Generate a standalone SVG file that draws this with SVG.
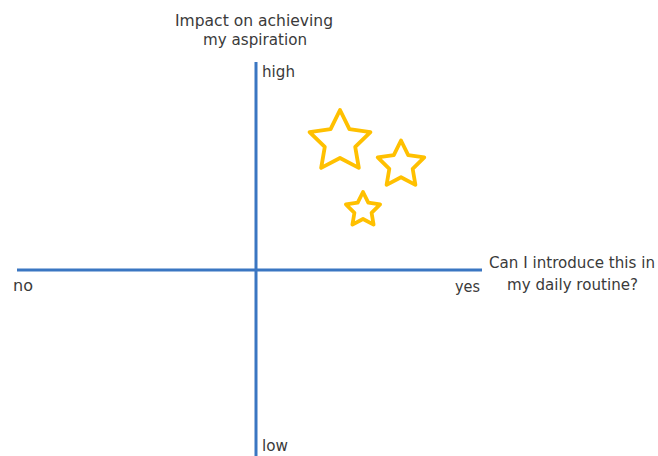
<svg xmlns="http://www.w3.org/2000/svg" width="658" height="456" viewBox="0 0 658 456">
  <style>
    .axis { stroke: #3a76c2; stroke-width: 3; fill: none; }
    .star { fill: none; stroke: #ffc000; stroke-linejoin: round; }
    text { font-family: "DejaVu Sans", "Liberation Sans", Arial, sans-serif; font-size: 15px; fill: #3a3a3a; }
  </style>
  <rect width="658" height="456" fill="#ffffff"/>
  <defs>
    <!-- unit five-pointed star, outer radius 1, inner radius 0.5 -->
    <polygon id="star5" points="0,-1 0.294,-0.405 0.951,-0.309 0.476,0.155 0.588,0.809 0,0.5 -0.588,0.809 -0.476,0.155 -0.951,-0.309 -0.294,-0.405"/>
  </defs>
  <g id="axes">
    <line class="axis" x1="17" y1="270" x2="482" y2="270"/>
    <line class="axis" x1="256" y1="62" x2="256" y2="456"/>
  </g>
  <g id="stars">
    <use href="#star5" class="star" transform="translate(340,142) scale(32)" style="stroke-width:0.12"/>
    <use href="#star5" class="star" transform="translate(401,165) scale(24.5)" style="stroke-width:0.155"/>
    <use href="#star5" class="star" transform="translate(363,210) scale(18)" style="stroke-width:0.21"/>
  </g>
  <g id="labels">
    <text x="175" y="26" textLength="158" lengthAdjust="spacingAndGlyphs">Impact on achieving</text>
    <text x="203" y="45" textLength="104" lengthAdjust="spacingAndGlyphs">my aspiration</text>
    <text x="262" y="77" textLength="33" lengthAdjust="spacingAndGlyphs">high</text>
    <text x="262" y="451" textLength="26" lengthAdjust="spacingAndGlyphs">low</text>
    <text x="13" y="291" textLength="20" lengthAdjust="spacingAndGlyphs">no</text>
    <text x="455" y="292" textLength="25" lengthAdjust="spacingAndGlyphs">yes</text>
    <text x="489" y="268" textLength="166" lengthAdjust="spacingAndGlyphs">Can I introduce this in</text>
    <text x="507" y="290" textLength="131" lengthAdjust="spacingAndGlyphs">my daily routine?</text>
  </g>
</svg>
